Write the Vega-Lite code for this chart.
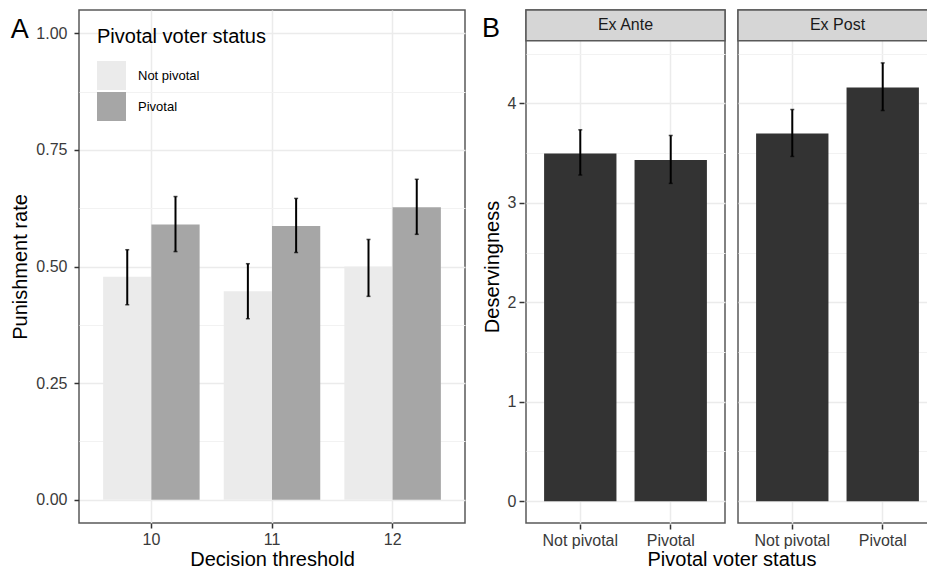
{
  "$schema": "https://vega.github.io/schema/vega-lite/v6.json",
  "padding": {"left": 10, "top": 8, "right": 0, "bottom": 0},
  "background": "white",
  "datasets": {
    "threshold": [
      {"Threshold": "10", "Status": "Not pivotal", "Rate": 0.478, "Lo": 0.418, "Hi": 0.536},
      {"Threshold": "10", "Status": "Pivotal", "Rate": 0.590, "Lo": 0.532, "Hi": 0.650},
      {"Threshold": "11", "Status": "Not pivotal", "Rate": 0.447, "Lo": 0.388, "Hi": 0.506},
      {"Threshold": "11", "Status": "Pivotal", "Rate": 0.587, "Lo": 0.530, "Hi": 0.646},
      {"Threshold": "12", "Status": "Not pivotal", "Rate": 0.500, "Lo": 0.436, "Hi": 0.558},
      {"Threshold": "12", "Status": "Pivotal", "Rate": 0.627, "Lo": 0.569, "Hi": 0.687}
    ],
    "deserving": [
      {"Timing": "Ex Ante", "Status": "Not pivotal", "Mean": 3.497, "Lo": 3.280, "Hi": 3.735},
      {"Timing": "Ex Ante", "Status": "Pivotal", "Mean": 3.430, "Lo": 3.196, "Hi": 3.678},
      {"Timing": "Ex Post", "Status": "Not pivotal", "Mean": 3.698, "Lo": 3.467, "Hi": 3.939},
      {"Timing": "Ex Post", "Status": "Pivotal", "Mean": 4.160, "Lo": 3.929, "Hi": 4.408}
    ]
  },
  "config": {
    "font": "Liberation Sans",
    "view": {"stroke": "#595959", "strokeWidth": 1.5},
    "axis": {
      "labelFontSize": 16, "labelColor": "#3a3a3a", "titleFontSize": 20,
      "titleFontWeight": "normal", "titleColor": "#000000",
      "tickColor": "#333333", "tickSize": 5, "tickWidth": 1.5,
      "domain": false, "gridColor": "#EBEBEB", "gridWidth": 1.5,
      "labelPadding": 3, "titlePadding": 5
    },
    "axisX": {"titlePadding": 2},
    "title": {"fontSize": 27, "fontWeight": "normal", "color": "#000000", "anchor": "start", "frame": "bounds", "baseline": "bottom", "offset": -34}
  },
  "spacing": 16,
  "hconcat": [
    {
      "title": "A",
      "data": {"name": "threshold"},
      "width": 386,
      "height": 513,
      "layer": [
        {
          "mark": {"type": "bar"},
          "encoding": {
            "x": {"field": "Threshold", "type": "nominal", "title": "Decision threshold",
                  "scale": {"paddingInner": 0.2, "paddingOuter": 0.2},
                  "axis": {"labelAngle": 0, "grid": true, "bandPosition": 0.5}},
            "xOffset": {"field": "Status", "type": "nominal", "scale": {"paddingInner": 0, "paddingOuter": 0}},
            "y": {"field": "Rate", "type": "quantitative", "title": "Punishment rate",
                  "scale": {"domain": [-0.05, 1.05], "nice": false, "zero": false},
                  "axis": {
                    "labelPadding": 7,
                    "values": [0, 0.125, 0.25, 0.375, 0.5, 0.625, 0.75, 0.875, 1],
                    "labelExpr": "datum.value % 0.25 === 0 ? format(datum.value, '.2f') : ''",
                    "tickColor": {"condition": {"test": "datum.value % 0.25 !== 0", "value": "transparent"}, "value": "#333333"},
                    "gridWidth": {"condition": {"test": "datum.value % 0.25 !== 0", "value": 1}, "value": 1.5},
                    "gridColor": {"condition": {"test": "datum.value % 0.25 !== 0", "value": "#F2F2F2"}, "value": "#EBEBEB"}
                  }},
            "color": {"field": "Status", "type": "nominal",
                      "scale": {"domain": ["Not pivotal", "Pivotal"], "range": ["#EBEBEB", "#A6A6A6"]},
                      "legend": {
                        "title": "Pivotal voter status", "orient": "none", "legendX": 18, "legendY": 17,
                        "titleFontSize": 20, "titleFontWeight": "normal", "titleColor": "#000000", "titlePadding": 14,
                        "labelFontSize": 13, "labelColor": "#000000", "labelOffset": 12,
                        "symbolType": "square", "symbolSize": 841, "symbolStrokeWidth": 0, "rowPadding": 2
                      }}
          }
        },
        {
          "mark": {"type": "rule", "color": "#000000", "strokeWidth": 2},
          "encoding": {
            "x": {"field": "Threshold", "type": "nominal"},
            "xOffset": {"field": "Status", "type": "nominal"},
            "y": {"field": "Lo", "type": "quantitative", "title": "Punishment rate"},
            "y2": {"field": "Hi"}
          }
        },
        {
          "mark": {"type": "tick", "color": "#000000", "thickness": 1.5, "size": 4},
          "encoding": {
            "x": {"field": "Threshold", "type": "nominal"},
            "xOffset": {"field": "Status", "type": "nominal"},
            "y": {"field": "Lo", "type": "quantitative", "title": "Punishment rate"}
          }
        },
        {
          "mark": {"type": "tick", "color": "#000000", "thickness": 1.5, "size": 4},
          "encoding": {
            "x": {"field": "Threshold", "type": "nominal"},
            "xOffset": {"field": "Status", "type": "nominal"},
            "y": {"field": "Hi", "type": "quantitative", "title": "Punishment rate"}
          }
        }
      ]
    },
    {
      "title": "B",
      "data": {"name": "deserving"},
      "facet": {"column": {"field": "Timing", "type": "nominal", "title": "Pivotal voter status",
                           "header": {"labels": false, "titleOrient": "bottom", "titleFontSize": 20, "titleFontWeight": "normal", "titleColor": "#000000", "titlePadding": -8, "titleBaseline": "top"}}},
      "spacing": 9,
      "spec": {
        "width": 199,
        "height": 513,
        "layer": [
          {
            "mark": {"type": "bar", "color": "#333333"},
            "encoding": {
              "x": {"field": "Status", "type": "nominal", "title": null,
                    "scale": {"paddingInner": 0.2, "paddingOuter": 0.2},
                    "axis": {"labelAngle": 0, "grid": true, "bandPosition": 0.5}},
              "y": {"field": "Mean", "type": "quantitative", "title": "Deservingness",
                    "scale": {"domain": [-0.22, 4.94], "nice": false, "zero": false},
                    "axis": {
                      "values": [0, 0.5, 1, 1.5, 2, 2.5, 3, 3.5, 4, 4.5],
                      "labelExpr": "datum.value % 1 === 0 ? format(datum.value, 'd') : ''",
                      "tickColor": {"condition": {"test": "datum.value % 1 !== 0", "value": "transparent"}, "value": "#333333"},
                      "gridWidth": {"condition": {"test": "datum.value % 1 !== 0", "value": 1}, "value": 1.5},
                      "gridColor": {"condition": {"test": "datum.value % 1 !== 0", "value": "#F2F2F2"}, "value": "#EBEBEB"}
                    }}
            }
          },
          {
            "mark": {"type": "rule", "color": "#000000", "strokeWidth": 2},
            "encoding": {
              "x": {"field": "Status", "type": "nominal", "title": null},
              "y": {"field": "Lo", "type": "quantitative", "title": "Deservingness"},
              "y2": {"field": "Hi"}
            }
          },
          {
            "mark": {"type": "tick", "color": "#000000", "thickness": 1.5, "size": 4},
            "encoding": {
              "x": {"field": "Status", "type": "nominal", "title": null},
              "y": {"field": "Lo", "type": "quantitative", "title": "Deservingness"}
            }
          },
          {
            "mark": {"type": "tick", "color": "#000000", "thickness": 1.5, "size": 4},
            "encoding": {
              "x": {"field": "Status", "type": "nominal", "title": null},
              "y": {"field": "Hi", "type": "quantitative", "title": "Deservingness"}
            }
          },
          {
            "transform": [{"filter": "datum.Status === 'Not pivotal'"}],
            "mark": {"type": "rect", "fill": "#D6D6D6", "stroke": "#595959", "strokeWidth": 1.5},
            "encoding": {
              "y": {"datum": 4.63, "type": "quantitative", "title": "Deservingness"},
              "y2": {"datum": 4.94}
            }
          },
          {
            "transform": [{"filter": "datum.Status === 'Not pivotal'"}],
            "mark": {"type": "text", "fontSize": 16, "color": "#1A1A1A", "baseline": "middle"},
            "encoding": {
              "y": {"datum": 4.785, "type": "quantitative", "title": "Deservingness"},
              "text": {"field": "Timing"}
            }
          }
        ]
      }
    }
  ]
}
